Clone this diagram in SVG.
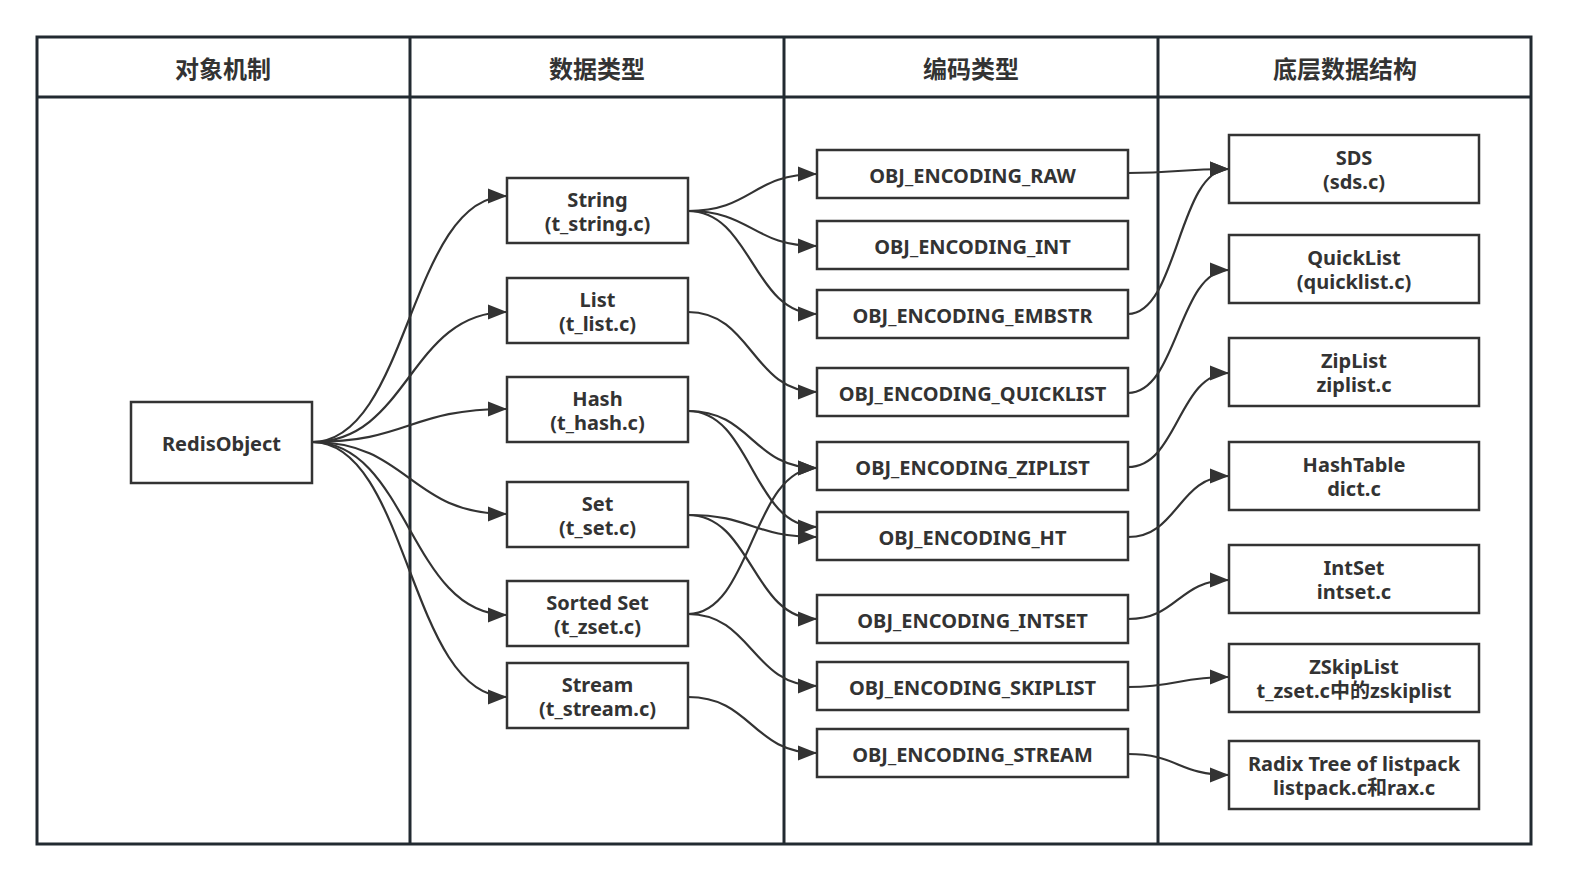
<svg xmlns="http://www.w3.org/2000/svg" width="1573" height="885" viewBox="0 0 1573 885">
<style>
.frame{fill:none;stroke:#222a31;stroke-width:3}
.box{fill:#ffffff;stroke:#333333;stroke-width:2.5}
.t{font-family:"Noto Sans","Open Sans","Noto Sans CJK SC",sans-serif;font-weight:bold;font-size:20px;fill:#333333;text-anchor:middle}
.h{font-family:"Noto Sans CJK SC","Noto Sans",sans-serif;font-weight:bold;font-size:24px;fill:#333333;text-anchor:middle}
.e{fill:none;stroke:#333333;stroke-width:2.2}
</style>
<defs>
<marker id="arr" markerUnits="userSpaceOnUse" markerWidth="20" markerHeight="16" refX="19" refY="8" orient="auto">
<path d="M0,0.5 L19,8 L0,15.5 z" fill="#333333"/>
</marker>
</defs>
<rect width="1573" height="885" fill="#ffffff"/>
<g id="frame">
<rect class="frame" x="37" y="37" width="1494" height="807"/>
<line class="frame" x1="37" y1="97" x2="1531" y2="97"/>
<line class="frame" x1="410" y1="37" x2="410" y2="844"/>
<line class="frame" x1="784" y1="37" x2="784" y2="844"/>
<line class="frame" x1="1158" y1="37" x2="1158" y2="844"/>
<text class="h" x="223" y="78">对象机制</text>
<text class="h" x="597" y="78">数据类型</text>
<text class="h" x="971" y="78">编码类型</text>
<text class="h" x="1345" y="78">底层数据结构</text>
</g>
<g id="connectors">
<path class="e" marker-end="url(#arr)" d="M312,442 C409,442 409,196 507,196"/>
<path class="e" marker-end="url(#arr)" d="M312,442 C409,442 409,312 507,312"/>
<path class="e" marker-end="url(#arr)" d="M312,442 C409,442 409,409 507,409"/>
<path class="e" marker-end="url(#arr)" d="M312,442 C409,442 409,514 507,514"/>
<path class="e" marker-end="url(#arr)" d="M312,442 C409,442 409,615 507,615"/>
<path class="e" marker-end="url(#arr)" d="M312,442 C409,442 409,697 507,697"/>
<path class="e" marker-end="url(#arr)" d="M688,211 C752,211 752,174 817,174"/>
<path class="e" marker-end="url(#arr)" d="M688,211 C752,211 752,246 817,246"/>
<path class="e" marker-end="url(#arr)" d="M688,211 C752,211 752,314 817,314"/>
<path class="e" marker-end="url(#arr)" d="M688,312 C752,312 752,392 817,392"/>
<path class="e" marker-end="url(#arr)" d="M688,411 C752,411 752,468 817,468"/>
<path class="e" marker-end="url(#arr)" d="M688,411 C752,411 752,527 817,527"/>
<path class="e" marker-end="url(#arr)" d="M688,515 C752,515 752,537 817,537"/>
<path class="e" marker-end="url(#arr)" d="M688,515 C752,515 752,619 817,619"/>
<path class="e" marker-end="url(#arr)" d="M688,614 C752,614 752,468 817,468"/>
<path class="e" marker-end="url(#arr)" d="M688,614 C752,614 752,686 817,686"/>
<path class="e" marker-end="url(#arr)" d="M688,697 C752,697 752,753 817,753"/>
<path class="e" marker-end="url(#arr)" d="M1128,173 C1178,173 1178,169 1229,169"/>
<path class="e" marker-end="url(#arr)" d="M1128,314 C1178,314 1178,169 1229,169"/>
<path class="e" marker-end="url(#arr)" d="M1128,393 C1178,393 1178,270 1229,270"/>
<path class="e" marker-end="url(#arr)" d="M1128,467 C1178,467 1178,373 1229,373"/>
<path class="e" marker-end="url(#arr)" d="M1128,537 C1178,537 1178,476 1229,476"/>
<path class="e" marker-end="url(#arr)" d="M1128,619 C1178,619 1178,580 1229,580"/>
<path class="e" marker-end="url(#arr)" d="M1128,687 C1178,687 1178,677 1229,677"/>
<path class="e" marker-end="url(#arr)" d="M1128,754 C1178,754 1178,775 1229,775"/>
</g>
<g id="redisobject">
<rect class="box" x="131" y="402" width="181" height="81"/>
<text class="t" x="221.5" y="451">RedisObject</text>
</g>
<g id="string">
<rect class="box" x="507" y="178" width="181" height="65"/>
<text class="t" x="597.5" y="207">String</text>
<text class="t" x="597.5" y="231">(t_string.c)</text>
</g>
<g id="list">
<rect class="box" x="507" y="278" width="181" height="65"/>
<text class="t" x="597.5" y="307">List</text>
<text class="t" x="597.5" y="331">(t_list.c)</text>
</g>
<g id="hash">
<rect class="box" x="507" y="377" width="181" height="65"/>
<text class="t" x="597.5" y="406">Hash</text>
<text class="t" x="597.5" y="430">(t_hash.c)</text>
</g>
<g id="set">
<rect class="box" x="507" y="482" width="181" height="65"/>
<text class="t" x="597.5" y="511">Set</text>
<text class="t" x="597.5" y="535">(t_set.c)</text>
</g>
<g id="sortedset">
<rect class="box" x="507" y="581" width="181" height="65"/>
<text class="t" x="597.5" y="610">Sorted Set</text>
<text class="t" x="597.5" y="634">(t_zset.c)</text>
</g>
<g id="stream">
<rect class="box" x="507" y="663" width="181" height="65"/>
<text class="t" x="597.5" y="692">Stream</text>
<text class="t" x="597.5" y="716">(t_stream.c)</text>
</g>
<g id="enc_raw">
<rect class="box" x="817" y="150" width="311" height="48"/>
<text class="t" x="972.5" y="183">OBJ_ENCODING_RAW</text>
</g>
<g id="enc_int">
<rect class="box" x="817" y="221" width="311" height="48"/>
<text class="t" x="972.5" y="254">OBJ_ENCODING_INT</text>
</g>
<g id="enc_embstr">
<rect class="box" x="817" y="290" width="311" height="48"/>
<text class="t" x="972.5" y="323">OBJ_ENCODING_EMBSTR</text>
</g>
<g id="enc_quicklist">
<rect class="box" x="817" y="368" width="311" height="48"/>
<text class="t" x="972.5" y="401">OBJ_ENCODING_QUICKLIST</text>
</g>
<g id="enc_ziplist">
<rect class="box" x="817" y="442" width="311" height="48"/>
<text class="t" x="972.5" y="475">OBJ_ENCODING_ZIPLIST</text>
</g>
<g id="enc_ht">
<rect class="box" x="817" y="512" width="311" height="48"/>
<text class="t" x="972.5" y="545">OBJ_ENCODING_HT</text>
</g>
<g id="enc_intset">
<rect class="box" x="817" y="595" width="311" height="48"/>
<text class="t" x="972.5" y="628">OBJ_ENCODING_INTSET</text>
</g>
<g id="enc_skiplist">
<rect class="box" x="817" y="662" width="311" height="48"/>
<text class="t" x="972.5" y="695">OBJ_ENCODING_SKIPLIST</text>
</g>
<g id="enc_stream">
<rect class="box" x="817" y="729" width="311" height="48"/>
<text class="t" x="972.5" y="762">OBJ_ENCODING_STREAM</text>
</g>
<g id="sds">
<rect class="box" x="1229" y="135" width="250" height="68"/>
<text class="t" x="1354" y="165">SDS</text>
<text class="t" x="1354" y="189">(sds.c)</text>
</g>
<g id="quicklist">
<rect class="box" x="1229" y="235" width="250" height="68"/>
<text class="t" x="1354" y="265">QuickList</text>
<text class="t" x="1354" y="289">(quicklist.c)</text>
</g>
<g id="ziplist">
<rect class="box" x="1229" y="338" width="250" height="68"/>
<text class="t" x="1354" y="368">ZipList</text>
<text class="t" x="1354" y="392">ziplist.c</text>
</g>
<g id="hashtable">
<rect class="box" x="1229" y="442" width="250" height="68"/>
<text class="t" x="1354" y="472">HashTable</text>
<text class="t" x="1354" y="496">dict.c</text>
</g>
<g id="intset">
<rect class="box" x="1229" y="545" width="250" height="68"/>
<text class="t" x="1354" y="575">IntSet</text>
<text class="t" x="1354" y="599">intset.c</text>
</g>
<g id="zskiplist">
<rect class="box" x="1229" y="644" width="250" height="68"/>
<text class="t" x="1354" y="674">ZSkipList</text>
<text class="t" x="1354" y="698">t_zset.c中的zskiplist</text>
</g>
<g id="radix">
<rect class="box" x="1229" y="741" width="250" height="68"/>
<text class="t" x="1354" y="771">Radix Tree of listpack</text>
<text class="t" x="1354" y="795">listpack.c和rax.c</text>
</g>
</svg>
